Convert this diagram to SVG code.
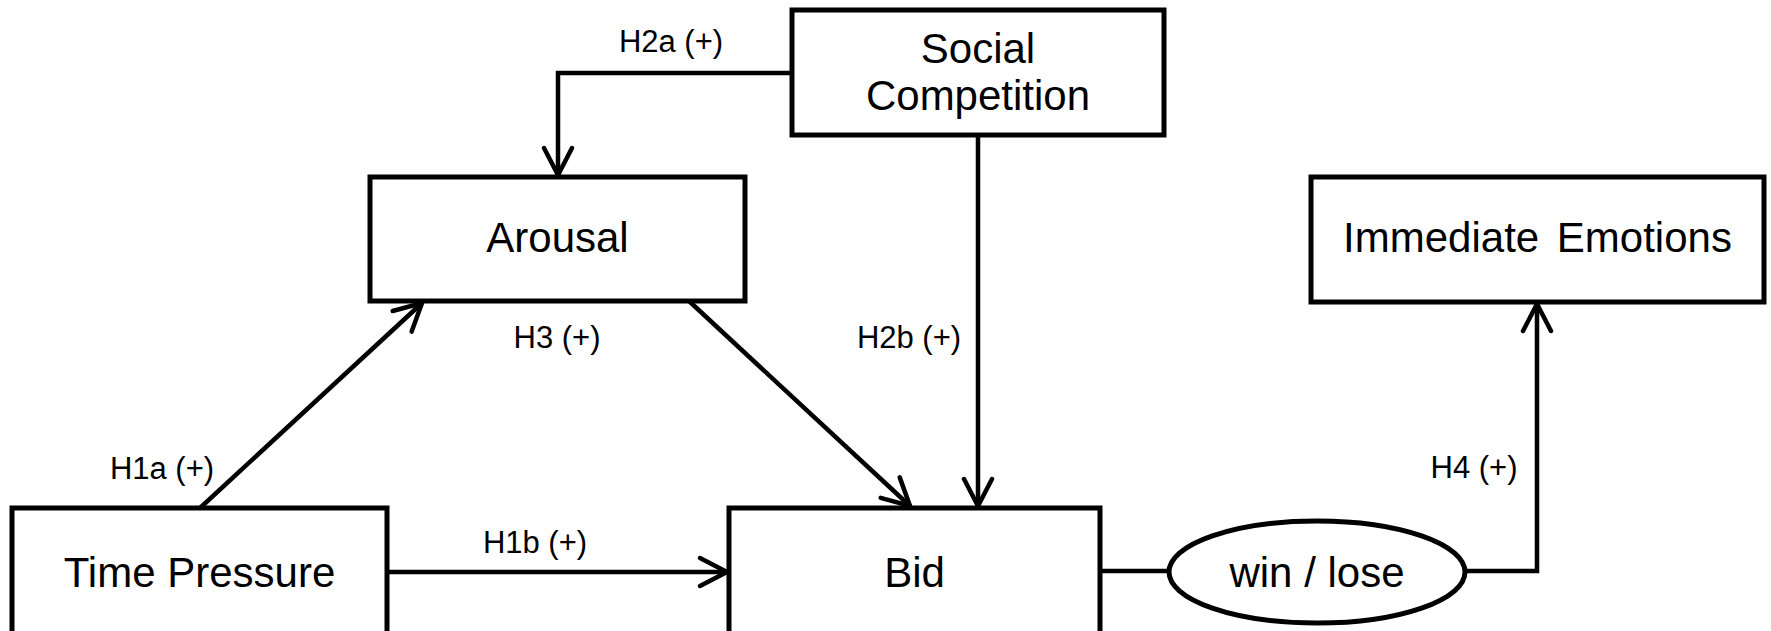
<svg xmlns="http://www.w3.org/2000/svg" width="1771" height="631" viewBox="0 0 1771 631">
<style>
.box{fill:#fff;stroke:#000;stroke-width:5;stroke-linejoin:miter}
.node{font-family:"Liberation Sans",Arial,sans-serif;font-size:42px;fill:#000;text-anchor:middle}
.lbl{font-family:"Liberation Sans",Arial,sans-serif;font-size:31px;fill:#000;text-anchor:middle}
.con{fill:none;stroke:#000;stroke-width:4.5}
</style>
<defs>
<marker id="arr" viewBox="0 0 34 34" refX="30" refY="17" markerWidth="34" markerHeight="34" markerUnits="userSpaceOnUse" orient="auto" overflow="visible">
<path d="M3,3 L30,17 L3,31" fill="none" stroke="#000" stroke-width="4.5" stroke-linecap="round" stroke-linejoin="miter"/>
</marker>
</defs>
<rect width="1771" height="631" fill="#fff"/>
<g id="connectors">
<path class="con" d="M792,73 H558 V175" marker-end="url(#arr)"/>
<path class="con" d="M978,135 V506" marker-end="url(#arr)"/>
<path class="con" d="M200,508 L422,303" marker-end="url(#arr)"/>
<path class="con" d="M689,301 L910,506" marker-end="url(#arr)"/>
<path class="con" d="M387,572 H727" marker-end="url(#arr)"/>
<path class="con" d="M1100,571 H1169"/>
<path class="con" d="M1466,571 H1537 V304" marker-end="url(#arr)"/>
<text class="lbl" x="671" y="52">H2a (+)</text>
<text class="lbl" x="557" y="348">H3 (+)</text>
<text class="lbl" x="909" y="348">H2b (+)</text>
<text class="lbl" x="162" y="479">H1a (+)</text>
<text class="lbl" x="535" y="553">H1b (+)</text>
<text class="lbl" x="1474" y="478">H4 (+)</text>
</g>
<g id="social">
<rect class="box" x="792" y="10" width="372" height="125"/>
<text class="node" x="978" y="63">Social</text>
<text class="node" x="978" y="110">Competition</text>
</g>
<g id="arousal">
<rect class="box" x="370" y="177" width="375" height="124"/>
<text class="node" x="557.5" y="252">Arousal</text>
</g>
<g id="emotions">
<rect class="box" x="1311" y="177" width="453" height="125"/>
<text class="node" x="1537.5" y="252" word-spacing="6">Immediate Emotions</text>
</g>
<g id="time">
<rect class="box" x="12" y="508" width="375" height="160"/>
<text class="node" x="199.5" y="587">Time Pressure</text>
</g>
<g id="bid">
<rect class="box" x="729" y="508" width="371" height="160"/>
<text class="node" x="914.5" y="587">Bid</text>
</g>
<g id="outcome">
<ellipse class="box" cx="1317" cy="572" rx="148" ry="51"/>
<text class="node" x="1317" y="587">win / lose</text>
</g>
</svg>
